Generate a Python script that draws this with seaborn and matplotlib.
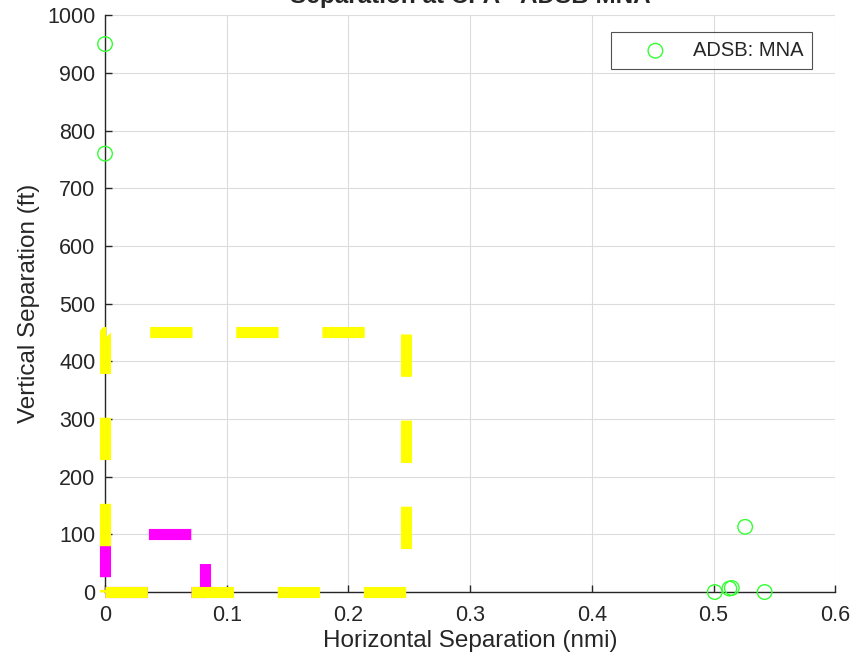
import numpy as np
import pandas as pd
import matplotlib
matplotlib.use("Agg")
import matplotlib.pyplot as plt
import seaborn as sns

# CPA separations for ADSB: MNA encounters
horiz_sep = [0.0, 0.0, 0.501, 0.513, 0.515, 0.526, 0.542]   # nmi
vert_sep = [950, 760, 0, 6, 7, 113, 0]                       # ft

# threshold boxes (horizontal nmi, vertical ft)
nmac_box = (0.0823, 100)     # 500 ft x 100 ft
wc_box = (0.2469, 450)       # 1500 ft x 450 ft

x_ticks = [0, 0.1, 0.2, 0.3, 0.4, 0.5, 0.6]
y_ticks = list(range(0, 1001, 100))


def box_path(w, h):
    return pd.DataFrame({"x": [0, w, w, 0, 0], "y": [0, 0, h, h, 0]})


sns.set_style("white")
plt.rcParams["font.family"] = ["Liberation Sans", "DejaVu Sans"]
plt.rcParams["lines.scale_dashes"] = False

fig = plt.figure(figsize=(8.54, 6.64), dpi=100)
ax = fig.add_axes([0.123, 0.1084, 0.855, 0.8687])

dash = (0, (30.5, 31.5))
sns.lineplot(data=box_path(*nmac_box), x="x", y="y", sort=False, estimator=None,
             color="#ff00ff", linewidth=8, linestyle=dash, clip_on=False,
             zorder=3, ax=ax)
sns.lineplot(data=box_path(*wc_box), x="x", y="y", sort=False, estimator=None,
             color="#ffff00", linewidth=8, linestyle=dash, clip_on=False,
             zorder=4, ax=ax)

pts = pd.DataFrame({"h": horiz_sep, "v": vert_sep})
sns.scatterplot(data=pts, x="h", y="v", marker="o", s=110, facecolors="none",
                edgecolor="#33ff33", linewidth=1.0, clip_on=False, zorder=5,
                label="ADSB: MNA", ax=ax)

ax.set_xlim(0, 0.6)
ax.set_ylim(0, 1000)
ax.set_xticks(x_ticks)
ax.set_xticklabels([f"{t:g}" for t in x_ticks])
ax.set_yticks(y_ticks)
ax.grid(True, color="#dcdcdc", linewidth=0.8)
ax.set_axisbelow(True)
for side in ["top", "right"]:
    ax.spines[side].set_visible(False)
for side in ["left", "bottom"]:
    ax.spines[side].set_color("#262626")
    ax.spines[side].set_linewidth(1.0)
ax.tick_params(direction="in", length=5, width=1, colors="#262626",
               labelsize=15.5, left=True, bottom=True)
ax.tick_params(axis="x", pad=9)
ax.tick_params(axis="y", pad=7)

ax.set_xlabel("Horizontal Separation (nmi)", fontsize=17.5, color="#262626",
              labelpad=3)
ax.set_ylabel("Vertical Separation (ft)", fontsize=17.5, color="#262626",
              labelpad=5)
ax.set_title("Separation at CPA - ADSB MNA", fontsize=17.5, fontweight="bold",
             pad=9)

leg = ax.legend(loc="upper right", bbox_to_anchor=(0.9685, 0.971), fontsize=14.5,
                frameon=True, fancybox=False, edgecolor="#262626",
                borderpad=0.45, handlelength=3.5, handletextpad=0.1,
                borderaxespad=0)
leg.get_frame().set_linewidth(0.8)

fig.savefig("out.png", dpi=100)
